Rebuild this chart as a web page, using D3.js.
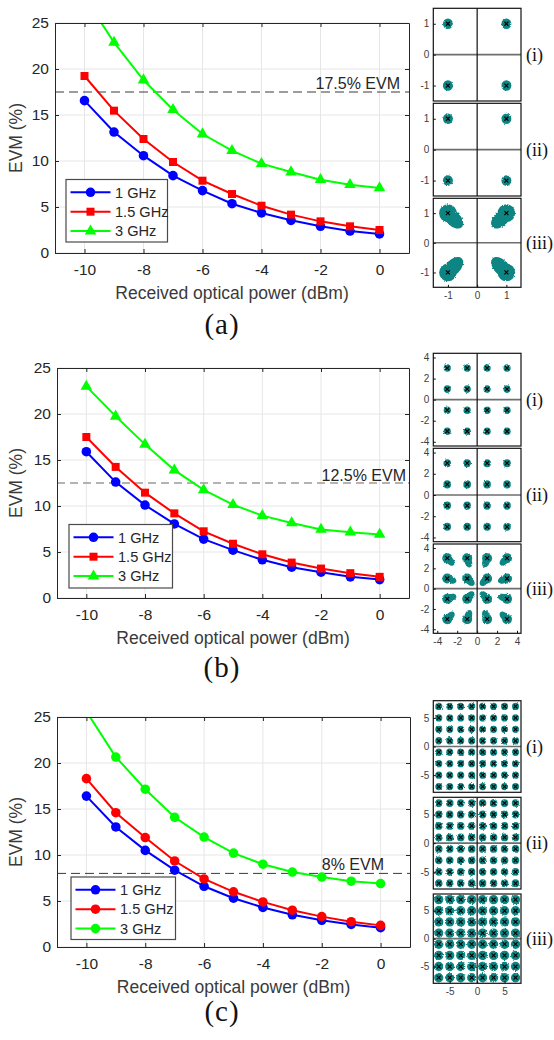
<!DOCTYPE html>
<html>
<head>
<meta charset="utf-8">
<script src="https://cdn.jsdelivr.net/npm/d3@7"></script>
<style>
  body { margin: 0; background: #fff; }
  svg { display: block; }
</style>
</head>
<body>
<svg id="fig" width="554" height="1040"></svg>
<script>
// ---------- data ----------
const powerDbm = [-10, -9, -8, -7, -6, -5, -4, -3, -2, -1, 0];
const powerTicks = [-10, -8, -6, -4, -2, 0];
const evmTicks = [0, 5, 10, 15, 20, 25];
const seriesNames = ["1 GHz", "1.5 GHz", "3 GHz"];
const seriesColors = ["#0000ff", "#ff0000", "#00ff00"];

// (a) QPSK
const evmA_1GHz  = [16.56, 13.15, 10.58, 8.41, 6.78, 5.36, 4.35, 3.55, 2.90, 2.39, 2.07];
const evmA_15GHz = [19.24, 15.47, 12.39, 9.89, 7.86, 6.41, 5.14, 4.17, 3.44, 2.90, 2.50];
const evmA_3GHz  = [27.8, 22.9, 18.8, 15.58, 12.93, 11.12, 9.71, 8.80, 7.97, 7.43, 7.07];
// (b) 16-QAM
const evmB_1GHz  = [15.9, 12.6, 10.1, 8.05, 6.4, 5.2, 4.15, 3.35, 2.8, 2.3, 2.0];
const evmB_15GHz = [17.5, 14.25, 11.45, 9.2, 7.25, 5.9, 4.75, 3.85, 3.2, 2.7, 2.3];
const evmB_3GHz  = [23.0, 19.75, 16.7, 13.9, 11.75, 10.15, 8.95, 8.15, 7.45, 7.15, 6.9];
// (c) 64-QAM
const evmC_1GHz  = [16.4, 13.05, 10.5, 8.35, 6.6, 5.3, 4.3, 3.5, 2.9, 2.45, 2.1];
const evmC_15GHz = [18.3, 14.6, 11.9, 9.35, 7.4, 6.0, 4.9, 4.0, 3.3, 2.75, 2.35];
const evmC_3GHz  = [25.6, 20.65, 17.15, 14.1, 11.95, 10.2, 9.0, 8.15, 7.6, 7.15, 6.9];

const evmLimits = [17.5, 12.5, 8];
const evmLimitLabels = ["17.5% EVM", "12.5% EVM", "8% EVM"];
const panelLabels = ["(a)", "(b)", "(c)"];

// constellation grids
const qpskLevels  = [-1, 1];
const qam16Levels = [-3, -1, 1, 3];
const qam64Levels = [-7, -5, -3, -1, 1, 3, 5, 7];
const qpskTicks  = [-1, 0, 1];
const qam16Ticks = [-4, -2, 0, 2, 4];
const qam64Ticks = [-5, 0, 5];
const caseLabels = ["(i)", "(ii)", "(iii)"];
// received clouds per case: [core radius, tail length, tail half-width, tail offset] in symbol units
const qpskClouds  = [[0.17, 0, 0, 0], [0.17, 0, 0, 0], [0.3, 0.42, 0.25, 0.25]];
const qam16Clouds = [[0.36, 0, 0, 0], [0.38, 0, 0, 0], [0.5, 0.55, 0.36, 0.4]];
const qam64Clouds = [[0.64, 0, 0, 0], [0.68, 0, 0, 0], [0.84, 0, 0, 0]];

// ---------- layout ----------
const charts = [
  { series: [evmA_1GHz, evmA_15GHz, evmA_3GHz], markers: ["circle", "square", "triangle"],
    left: 55, right: 409, top: 23, bottom: 253,
    leg: [66, 179.5, 101.5, 62.5], limLabel: [400, 89], panelY: 334 },
  { series: [evmB_1GHz, evmB_15GHz, evmB_3GHz], markers: ["circle", "square", "triangle"],
    left: 57, right: 409, top: 368, bottom: 598,
    leg: [69, 524.5, 103.5, 63.5], limLabel: [406, 481], panelY: 677, limStyle: "light" },
  { series: [evmC_1GHz, evmC_15GHz, evmC_3GHz], markers: ["circle", "circle", "circle"],
    left: 57, right: 410, top: 717, bottom: 947,
    leg: [71, 877, 104.5, 62.5], limLabel: [384, 870], panelY: 1021 }
];

const constPanels = [
  { levels: qpskLevels, ticks: qpskTicks, clouds: qpskClouds, lim: 1.5,
    boxes: [[8.3, 101], [103.3, 196], [198.3, 287.3]] },
  { levels: qam16Levels, ticks: qam16Ticks, clouds: qam16Clouds, lim: 4.4,
    boxes: [[353.3, 446], [448.3, 541.7], [544, 633.3]] },
  { levels: qam64Levels, ticks: qam64Ticks, clouds: qam64Clouds, lim: 8,
    boxes: [[700.7, 792.3], [797.3, 889], [894, 983.3]] }
];
const constX0 = 433.3, constX1 = 521;

const svg = d3.select("#fig");
const defs = svg.append("defs");
const speckle = defs.append("filter").attr("id", "speckle")
  .attr("x", "-20%").attr("y", "-20%").attr("width", "140%").attr("height", "140%");
speckle.append("feTurbulence").attr("type", "fractalNoise").attr("baseFrequency", 1.1)
  .attr("numOctaves", 2).attr("seed", 4).attr("result", "noise");
speckle.append("feDisplacementMap").attr("in", "SourceGraphic").attr("in2", "noise")
  .attr("scale", 2.4).attr("xChannelSelector", "R").attr("yChannelSelector", "G");

const sans = "Liberation Sans, Arial, sans-serif";
const serif = "Liberation Serif, Times New Roman, serif";
const ink = "#262626";

function markerPath(kind) {
  if (kind === "square") return d3.symbol(d3.symbolSquare, 64)();
  if (kind === "triangle") return d3.symbol(d3.symbolTriangle, 58)();
  return d3.symbol(d3.symbolCircle, 72)();
}

charts.forEach((c, ci) => {
  const g = svg.append("g");
  const x = d3.scaleLinear().domain([-11, 1]).range([c.left, c.right]);
  const y = d3.scaleLinear().domain([0, 25]).range([c.bottom, c.top]);

  // grid
  g.append("g").selectAll("line").data(powerTicks).join("line")
    .attr("x1", d => x(d)).attr("x2", d => x(d)).attr("y1", c.top).attr("y2", c.bottom)
    .attr("stroke", "#e6e6e6").attr("stroke-width", 1);
  g.append("g").selectAll("line").data(evmTicks).join("line")
    .attr("x1", c.left).attr("x2", c.right).attr("y1", d => y(d)).attr("y2", d => y(d))
    .attr("stroke", "#e6e6e6").attr("stroke-width", 1);

  // EVM limit
  const light = c.limStyle === "light";
  g.append("line")
    .attr("x1", c.left).attr("x2", c.right)
    .attr("y1", y(evmLimits[ci])).attr("y2", y(evmLimits[ci]))
    .attr("stroke", light ? "#9a9a9a" : "#3a3a3a")
    .attr("stroke-width", light ? 1.6 : 1)
    .attr("stroke-dasharray", light ? "8,5" : "9,5");
  g.append("text")
    .attr("x", c.limLabel[0]).attr("y", c.limLabel[1])
    .attr("text-anchor", "end").attr("font-family", sans).attr("font-size", 16)
    .attr("fill", ink).text(evmLimitLabels[ci]);

  // series
  const clipId = "plotclip" + ci;
  defs.append("clipPath").attr("id", clipId).append("rect")
    .attr("x", c.left).attr("y", c.top).attr("width", c.right - c.left).attr("height", c.bottom - c.top);
  const plot = g.append("g").attr("clip-path", `url(#${clipId})`);
  const line = d3.line().x((d, i) => x(powerDbm[i])).y(d => y(d));
  c.series.forEach((vals, si) => {
    plot.append("path").datum(vals).attr("d", line)
      .attr("fill", "none").attr("stroke", seriesColors[si]).attr("stroke-width", 2);
    plot.append("g").selectAll("path").data(vals).join("path")
      .attr("d", markerPath(c.markers[si]))
      .attr("transform", (d, i) => `translate(${x(powerDbm[i])},${y(d)})`)
      .attr("fill", seriesColors[si]);
  });

  // axes
  const fmt = d => String(d);
  const styleAxis = sel => {
    sel.select(".domain").attr("stroke", ink);
    sel.selectAll(".tick line").attr("stroke", ink);
    sel.selectAll(".tick text").attr("fill", ink).attr("font-family", sans).attr("font-size", 15.5);
  };
  g.append("g").attr("transform", `translate(0,${c.bottom})`)
    .call(d3.axisBottom(x).tickValues(powerTicks).tickSize(-4).tickSizeOuter(0).tickPadding(11).tickFormat(fmt))
    .call(styleAxis);
  g.append("g").attr("transform", `translate(0,${c.top})`)
    .call(d3.axisTop(x).tickValues(powerTicks).tickSize(-4).tickSizeOuter(0).tickFormat(""))
    .call(styleAxis);
  g.append("g").attr("transform", `translate(${c.left},0)`)
    .call(d3.axisLeft(y).tickValues(evmTicks).tickSize(-4).tickSizeOuter(0).tickPadding(6).tickFormat(fmt))
    .call(styleAxis);
  g.append("g").attr("transform", `translate(${c.right},0)`)
    .call(d3.axisRight(y).tickValues(evmTicks).tickSize(-4).tickSizeOuter(0).tickFormat(""))
    .call(styleAxis);

  // axis titles
  g.append("text")
    .attr("x", (c.left + c.right) / 2).attr("y", c.bottom + 46)
    .attr("text-anchor", "middle").attr("font-family", sans).attr("font-size", 17.5)
    .attr("fill", "#3a3a3a").text("Received optical power (dBm)");
  g.append("text")
    .attr("transform", `translate(22,${(c.top + c.bottom) / 2}) rotate(-90)`)
    .attr("text-anchor", "middle").attr("font-family", sans).attr("font-size", 17.5)
    .attr("fill", "#3a3a3a").text("EVM (%)");

  // legend
  const [lx, ly, lw, lh] = c.leg;
  const lg = g.append("g");
  lg.append("rect").attr("x", lx).attr("y", ly).attr("width", lw).attr("height", lh)
    .attr("fill", "#fff").attr("stroke", "#4a4a4a").attr("stroke-width", 1.2);
  seriesNames.forEach((name, si) => {
    const ry = ly + 12.8 + si * 19.4;
    lg.append("line").attr("x1", lx + 4.5).attr("x2", lx + 44.5).attr("y1", ry).attr("y2", ry)
      .attr("stroke", seriesColors[si]).attr("stroke-width", 2);
    lg.append("path").attr("d", markerPath(c.markers[si]))
      .attr("transform", `translate(${lx + 24.5},${ry})`).attr("fill", seriesColors[si]);
    lg.append("text").attr("x", lx + 49).attr("y", ry + 5.2)
      .attr("font-family", sans).attr("font-size", 14.6).attr("fill", ink).text(name);
  });

  // panel label
  svg.append("text").attr("x", 222).attr("y", c.panelY)
    .attr("text-anchor", "middle").attr("font-family", serif).attr("font-size", 29)
    .attr("letter-spacing", 1).attr("fill", "#111").text(panelLabels[ci]);
});

// ---------- constellations ----------
constPanels.forEach((p, pi) => {
  const xs = d3.scaleLinear().domain([-p.lim, p.lim]).range([constX0, constX1]);
  p.boxes.forEach((b, bi) => {
    const [top, bottom] = b;
    const ys = d3.scaleLinear().domain([-p.lim, p.lim]).range([bottom, top]);
    const g = svg.append("g");
    const clipId = `cclip${pi}_${bi}`;
    defs.append("clipPath").attr("id", clipId).append("rect")
      .attr("x", constX0).attr("y", top).attr("width", constX1 - constX0).attr("height", bottom - top);

    const pts = [];
    p.levels.forEach(iy => p.levels.forEach(ix => pts.push([ix, iy])));
    const [core, tailLen, tailW, tailOff] = p.clouds[bi];
    const ppu = ((xs(1) - xs(0)) + (ys(0) - ys(1))) / 2;

    const cloud = g.append("g").attr("clip-path", `url(#${clipId})`)
      .append("g").attr("filter", "url(#speckle)").attr("fill", "#0a8582");
    pts.forEach(([ix, iy]) => {
      const px = xs(ix), py = ys(iy);
      cloud.append("ellipse").attr("cx", px).attr("cy", py)
        .attr("rx", xs(core) - xs(0)).attr("ry", ys(0) - ys(core));
      if (tailLen > 0) {
        const dx = xs(0) - px, dy = ys(0) - py;
        const ang = Math.atan2(dy, dx);
        const cx = px + Math.cos(ang) * tailOff * ppu;
        const cy = py + Math.sin(ang) * tailOff * ppu;
        cloud.append("ellipse").attr("cx", 0).attr("cy", 0)
          .attr("rx", tailLen * ppu).attr("ry", tailW * ppu)
          .attr("transform", `translate(${cx},${cy}) rotate(${ang * 180 / Math.PI})`);
      }
    });

    // zero lines
    g.append("line").attr("x1", constX0).attr("x2", constX1).attr("y1", ys(0)).attr("y2", ys(0))
      .attr("stroke", "#6e6e6e").attr("stroke-width", 1.6);
    g.append("line").attr("x1", xs(0)).attr("x2", xs(0)).attr("y1", top).attr("y2", bottom)
      .attr("stroke", "#111").attr("stroke-width", 1.2);

    // ideal symbol markers
    g.append("g").selectAll("path").data(pts).join("path")
      .attr("d", "M-2,-2L2,2M-2,2L2,-2")
      .attr("transform", d => `translate(${xs(d[0])},${ys(d[1])})`)
      .attr("stroke", "#000").attr("stroke-width", 1.1).attr("fill", "none");

    // frame
    g.append("rect").attr("x", constX0).attr("y", top)
      .attr("width", constX1 - constX0).attr("height", bottom - top)
      .attr("fill", "none").attr("stroke", "#111").attr("stroke-width", 1.2);

    // y ticks
    const yax = g.append("g").attr("transform", `translate(${constX0},0)`)
      .call(d3.axisLeft(ys).tickValues(p.ticks).tickSize(-2.5).tickSizeOuter(0).tickPadding(4).tickFormat(d => String(d)));
    yax.select(".domain").remove();
    yax.selectAll(".tick line").attr("stroke", "#111");
    yax.selectAll(".tick text").attr("fill", "#404040").attr("font-family", sans).attr("font-size", 10);

    if (bi === 2) {
      const xax = g.append("g").attr("transform", `translate(0,${bottom})`)
        .call(d3.axisBottom(xs).tickValues(p.ticks).tickSize(-2.5).tickSizeOuter(0).tickPadding(5).tickFormat(d => String(d)));
      xax.select(".domain").remove();
      xax.selectAll(".tick line").attr("stroke", "#111");
      xax.selectAll(".tick text").attr("fill", "#404040").attr("font-family", sans).attr("font-size", 10);
    }

    // case label
    svg.append("text").attr("x", 526).attr("y", (top + bottom) / 2 + 6)
      .attr("font-family", serif).attr("font-size", 18).attr("fill", "#111")
      .text(caseLabels[bi]);
  });
});
</script>
</body>
</html>
